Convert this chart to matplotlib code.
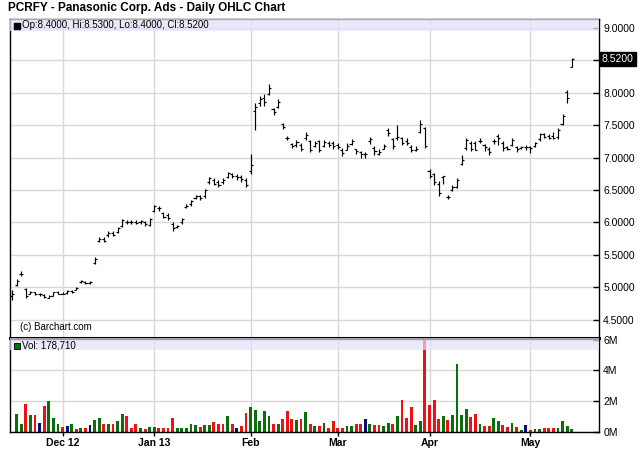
import numpy as np
import pandas as pd
import matplotlib
matplotlib.use('Agg')
import matplotlib.pyplot as plt
from matplotlib.patches import Rectangle
import matplotlib.transforms as mtransforms

plt.rcParams['font.family'] = ['Liberation Sans', 'DejaVu Sans']

# ---------------- data ----------------
holidays = ['2012-11-22', '2012-12-25', '2013-01-01', '2013-01-21', '2013-02-18', '2013-03-29']
dates = pd.bdate_range('2012-11-15', '2013-05-14', freq='C', holidays=holidays)

opens = [4.86, 5.03, 5.20, 4.97, 4.90, 4.92, 4.89, 4.88, 4.84, 4.87,
         4.92, 4.90, 4.91, 4.94, 4.96, 5.08, 5.08, 5.06, 5.37, 5.72,
         5.74, 5.80, 5.84, 5.85, 5.95, 6.00, 6.01, 6.00, 6.00, 6.01,
         5.96, 6.18, 6.22, 6.14, 6.12, 5.98, 5.93, 6.00, 6.24, 6.28,
         6.37, 6.40, 6.40, 6.62, 6.66, 6.62, 6.62, 6.70, 6.74, 6.72,
         6.70, 6.66, 6.80, 7.72, 7.84, 7.92, 7.98, 7.75, 7.78, 7.52,
         7.30, 7.21, 7.20, 7.20, 7.30, 7.25, 7.18, 7.25, 7.18, 7.22,
         7.22, 7.19, 7.12, 7.12, 7.21, 7.13, 7.08, 7.05, 7.26, 7.15,
         7.06, 7.14, 7.42, 7.28, 7.30, 7.30, 7.26, 7.17, 7.12, 7.40,
         7.45, 6.80, 6.74, 6.60, 6.70, 6.39, 6.50, 6.55, 6.90, 7.15,
         7.22, 7.22, 7.26, 7.19, 7.14, 7.25, 7.33, 7.22, 7.16, 7.20,
         7.16, 7.15, 7.16, 7.16, 7.18, 7.28, 7.36, 7.33, 7.34, 7.32,
         7.52, 8.02, 8.40]
highs = [4.95, 5.12, 5.25, 4.98, 4.94, 4.93, 4.91, 4.89, 4.88, 4.93,
         4.94, 4.92, 4.96, 4.95, 5.00, 5.11, 5.09, 5.09, 5.47, 5.78,
         5.77, 5.86, 5.86, 5.93, 6.06, 6.03, 6.04, 6.03, 6.04, 6.02,
         6.07, 6.27, 6.26, 6.16, 6.14, 6.00, 5.96, 6.07, 6.28, 6.35,
         6.42, 6.43, 6.52, 6.70, 6.68, 6.66, 6.68, 6.78, 6.77, 6.75,
         6.73, 6.68, 7.05, 7.84, 7.95, 7.98, 8.14, 7.77, 7.90, 7.54,
         7.34, 7.23, 7.27, 7.22, 7.40, 7.27, 7.26, 7.27, 7.27, 7.25,
         7.26, 7.22, 7.15, 7.22, 7.28, 7.14, 7.10, 7.08, 7.32, 7.18,
         7.14, 7.21, 7.45, 7.30, 7.50, 7.32, 7.30, 7.19, 7.18, 7.58,
         7.47, 6.82, 6.76, 6.64, 6.72, 6.43, 6.57, 6.68, 7.04, 7.30,
         7.25, 7.25, 7.31, 7.21, 7.16, 7.29, 7.36, 7.25, 7.18, 7.30,
         7.18, 7.18, 7.19, 7.18, 7.24, 7.38, 7.38, 7.36, 7.40, 7.45,
         7.68, 8.04, 8.53]
lows = [4.80, 5.02, 5.17, 4.84, 4.89, 4.88, 4.87, 4.83, 4.83, 4.86,
        4.89, 4.89, 4.90, 4.91, 4.95, 5.06, 5.05, 5.05, 5.36, 5.70,
        5.70, 5.78, 5.79, 5.84, 5.93, 5.97, 5.98, 5.97, 5.98, 5.95,
        5.94, 6.16, 6.18, 6.07, 6.04, 5.87, 5.91, 5.98, 6.22, 6.26,
        6.36, 6.35, 6.38, 6.60, 6.58, 6.55, 6.60, 6.68, 6.68, 6.66,
        6.63, 6.55, 6.75, 7.42, 7.80, 7.80, 7.97, 7.66, 7.76, 7.44,
        7.27, 7.15, 7.17, 7.10, 7.27, 7.09, 7.16, 7.09, 7.16, 7.16,
        7.13, 7.13, 7.03, 7.11, 7.19, 7.06, 7.00, 6.99, 7.21, 7.04,
        7.04, 7.13, 7.33, 7.13, 7.27, 7.20, 7.20, 7.08, 7.10, 7.38,
        7.15, 6.68, 6.58, 6.40, 6.60, 6.36, 6.49, 6.53, 6.88, 7.12,
        7.10, 7.11, 7.22, 7.10, 7.04, 7.21, 7.20, 7.10, 7.12, 7.18,
        7.09, 7.13, 7.12, 7.07, 7.16, 7.26, 7.30, 7.29, 7.28, 7.28,
        7.50, 7.84, 8.40]
closes = [4.90, 5.10, 5.20, 4.86, 4.92, 4.89, 4.89, 4.85, 4.87, 4.92,
          4.90, 4.90, 4.94, 4.93, 4.99, 5.09, 5.07, 5.08, 5.44, 5.75,
          5.71, 5.84, 5.80, 5.91, 6.03, 6.00, 6.01, 5.99, 6.02, 5.97,
          6.05, 6.25, 6.22, 6.09, 6.07, 5.92, 5.94, 6.06, 6.25, 6.33,
          6.41, 6.38, 6.50, 6.68, 6.60, 6.58, 6.66, 6.76, 6.72, 6.70,
          6.67, 6.58, 6.88, 7.78, 7.90, 7.86, 8.08, 7.70, 7.86, 7.47,
          7.31, 7.18, 7.24, 7.13, 7.35, 7.12, 7.23, 7.11, 7.24, 7.20,
          7.18, 7.16, 7.07, 7.18, 7.25, 7.10, 7.05, 7.05, 7.28, 7.10,
          7.09, 7.18, 7.38, 7.18, 7.32, 7.23, 7.22, 7.12, 7.14, 7.52,
          7.18, 6.72, 6.62, 6.46, 6.71, 6.39, 6.55, 6.65, 6.96, 7.27,
          7.14, 7.12, 7.26, 7.16, 7.08, 7.25, 7.30, 7.15, 7.14, 7.27,
          7.13, 7.16, 7.16, 7.15, 7.22, 7.36, 7.32, 7.31, 7.30, 7.42,
          7.64, 7.92, 8.52]
# volume in millions, and colour code (g = up, r = down, b = unchanged)
volumes = [0.00, 1.16, 0.50, 1.82, 1.05, 1.05, 0.57, 1.65, 1.98, 0.88,
           0.50, 0.29, 0.33, 0.50, 0.15, 0.24, 0.22, 0.44, 0.73, 0.88,
           0.50, 0.46, 0.46, 0.66, 1.16, 0.99, 0.24, 0.50, 0.24, 0.15,
           0.29, 0.29, 0.24, 0.24, 0.20, 0.88, 0.20, 0.20, 0.20, 0.50,
           0.40, 0.29, 0.44, 0.44, 0.64, 0.46, 0.46, 0.99, 0.50, 0.26,
           0.35, 1.23, 1.60, 1.38, 0.66, 1.32, 0.99, 0.50, 0.50, 0.81,
           1.32, 0.81, 0.73, 0.81, 1.25, 0.50, 0.33, 0.33, 0.55, 0.24,
           0.68, 0.24, 0.24, 0.37, 0.37, 0.50, 0.50, 0.81, 0.50, 0.44,
           0.44, 0.33, 0.57, 0.50, 1.03, 2.09, 0.86, 1.63, 0.44, 0.66,
           6.60, 1.71, 2.09, 0.81, 1.00, 0.75, 1.10, 4.40, 1.05, 1.50,
           0.95, 1.18, 0.50, 0.33, 0.33, 0.88, 0.70, 0.40, 0.30, 0.55,
           0.30, 0.13, 0.44, 0.10, 0.15, 0.15, 0.20, 0.20, 0.20, 0.20,
           0.70, 0.35, 0.18]
vol_dir = ("gggrgrbrgg" "grbgrgrbgg" "rgrggrrrgr" "ggrrrrgggg" "grggrrrgrb"
           "rrgggggrgr" "rrgrgrgrgr" "rrrggrrbgr" "rggrgrrrgg" "rrrrgrgggg"
           "rrgrrggrrg" "rgbrggrrrg" "ggg")

month_labels = ['Dec 12', 'Jan 13', 'Feb', 'Mar', 'Apr', 'May']
price_ticks = [4.5, 5.0, 5.5, 6.0, 6.5, 7.0, 7.5, 8.0, 8.5, 9.0]
vol_ticks = [0, 2, 4, 6]
vol_tick_labels = ['0M', '2M', '4M', '6M']
last_vol_text = '178,710'

n = len(dates)
assert len(opens) == len(highs) == len(lows) == len(closes) == len(volumes) == len(vol_dir) == n

# ---------------- figure ----------------
W, H = 640, 468
fig = plt.figure(figsize=(W / 100, H / 100), dpi=100)
fig.patch.set_facecolor('white')


def fa(l, t, r, b):
    return [l / W, 1 - b / H, (r - l) / W, (b - t) / H]


ax1 = fig.add_axes(fa(10, 19, 599, 338))
ax2 = fig.add_axes(fa(10, 338, 599, 431.5))

x = np.arange(n)
month_pos = [i for i in range(1, n) if dates[i].month != dates[i - 1].month]
grid_c = '#d8d8d8'

for ax in (ax1, ax2):
    ax.set_xlim(-0.45, 127.95)
    ax.set_xticks(month_pos)
    ax.grid(True, color=grid_c, lw=1.0, zorder=0)
    ax.set_axisbelow(True)
    ax.yaxis.tick_right()
    ax.tick_params(axis='y', direction='in', length=4, width=1, labelsize=7.5, pad=3, colors='black')
    for s in ax.spines.values():
        s.set_color('black')
        s.set_linewidth(1)

last_close = closes[-1]
ax1.set_ylim(4.216, 9.139)
ax1.set_yticks(price_ticks)
# the tick label nearest the last close is replaced by the highlighted last-price box
ax1.set_yticklabels(['' if abs(v - last_close) < 0.1 else f'{v:.4f}' for v in price_ticks])
ax1.tick_params(axis='x', length=0, labelbottom=False)

ax2.set_ylim(0, 6.13)
ax2.set_yticks(vol_ticks)
ax2.set_yticklabels(vol_tick_labels)
ax2.set_xticklabels(month_labels, fontweight='bold', fontsize=7.5)
ax2.tick_params(axis='x', direction='out', length=3, width=1, pad=1.5)
ax2.spines['top'].set_linewidth(2.2)

# OHLC bars
tw = 0.45
ax1.vlines(x, lows, highs, color='black', lw=0.85, zorder=3)
ax1.hlines(opens, x - tw, x, color='black', lw=0.85, zorder=3)
ax1.hlines(closes, x, x + tw, color='black', lw=0.85, zorder=3)

# volume bars
cmap = {'g': '#0a6e0a', 'r': '#ee1111', 'b': '#0a0a78'}
vcols = [cmap[c] for c in vol_dir]
ax2.bar(x, volumes, width=0.62, color=vcols, zorder=2, linewidth=0)

# header bands
band_c = '#e2e2f8'
ax1.add_patch(Rectangle((0, 1 - 12 / 319), 1, 12 / 319, transform=ax1.transAxes,
                        facecolor=band_c, edgecolor='none', alpha=0.75, zorder=4))
ax2.add_patch(Rectangle((0, 1 - 12 / 93.5), 1, 12 / 93.5, transform=ax2.transAxes,
                        facecolor=band_c, edgecolor='none', alpha=0.7, zorder=4))

ax1.plot([7 / 589], [1 - 6.5 / 319], marker='s', ms=5, color='black',
         transform=ax1.transAxes, clip_on=False, zorder=6)
ax1.text(12 / 589, 1 - 6.5 / 319,
         f'Op:{opens[-1]:.4f}, Hi:{highs[-1]:.4f}, Lo:{lows[-1]:.4f}, Cl:{closes[-1]:.4f}',
         transform=ax1.transAxes, fontsize=7, va='center', ha='left', zorder=6)

ax2.plot([7 / 589], [1 - 7.5 / 93.5], marker='s', ms=5, color='#0a6e0a', mec='black', mew=0.6,
         transform=ax2.transAxes, clip_on=False, zorder=6)
ax2.text(12 / 589, 1 - 7.5 / 93.5, f'Vol: {last_vol_text}',
         transform=ax2.transAxes, fontsize=7, va='center', ha='left', zorder=6)

ax1.text(10 / 589, 11 / 319, '(c) Barchart.com', transform=ax1.transAxes,
         fontsize=7, va='center', ha='left', zorder=6)

# last price marker on axis
trans = mtransforms.blended_transform_factory(ax1.transAxes, ax1.transData)
ax1.text(1 + 3 / 589, last_close, f'{last_close:.4f}', transform=trans, fontsize=7.5,
         color='white', va='center', ha='left', zorder=7,
         bbox=dict(facecolor='black', edgecolor='black', pad=1.2))

fig.text(8 / W, 1 - 8.5 / H, 'PCRFY - Panasonic Corp. Ads - Daily OHLC Chart',
         fontsize=8.5, fontweight='bold', va='center', ha='left')

fig.savefig('out.png', dpi=100, facecolor='white')
